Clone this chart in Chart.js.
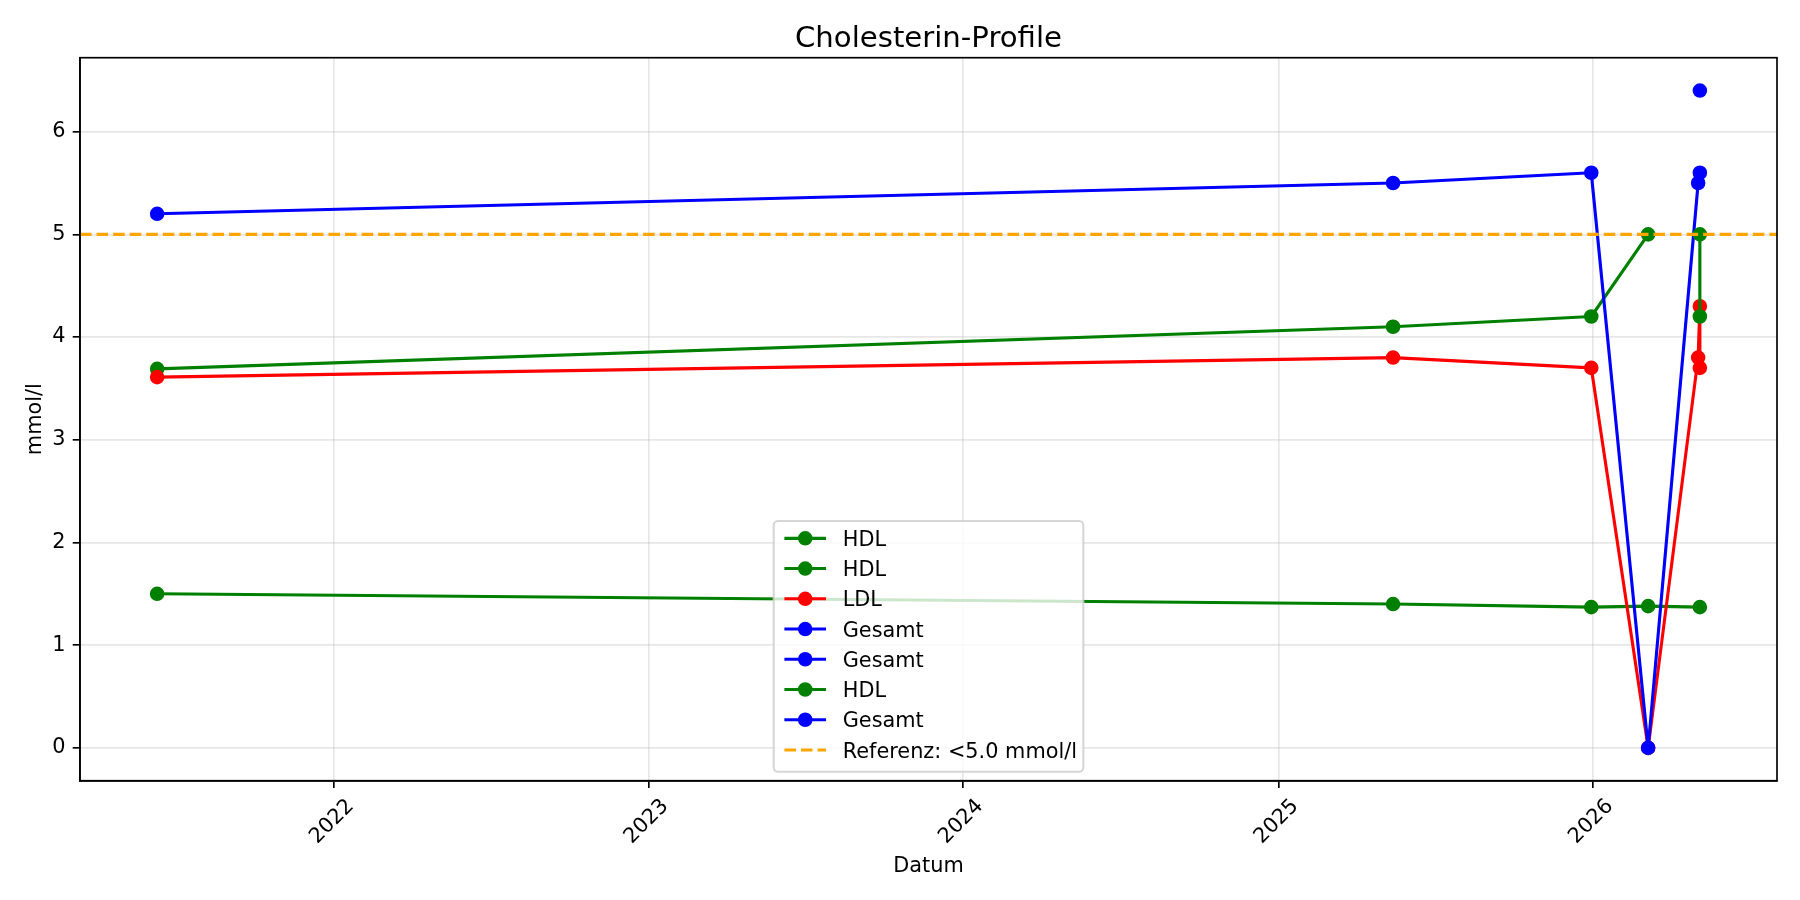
<!DOCTYPE html>
<html>
<head>
<meta charset="utf-8">
<script src="https://cdn.jsdelivr.net/npm/chart.js@4.4.1/dist/chart.umd.min.js"></script>
<style>
html,body{margin:0;padding:0;background:#ffffff;}
canvas{display:block;}
</style>
</head>
<body>
<canvas id="c" width="1800" height="900" style="width:1800px;height:900px"></canvas>
<script>
// ---------- data ----------
const hdlADates   = ['2021-06-10','2025-05-14','2025-12-30','2026-03-06','2026-05-05'];
const hdlAValues  = [1.50, 1.40, 1.37, 1.38, 1.37];
const hdlBDates   = ['2021-06-10','2025-05-14','2025-12-30','2026-03-06'];
const hdlBValues  = [3.69, 4.10, 4.20, 5.00];
const ldlDates    = ['2021-06-10','2025-05-14','2025-12-30','2026-03-06','2026-05-03','2026-05-05','2026-05-05'];
const ldlValues   = [3.61, 3.80, 3.70, 0.00, 3.80, 4.30, 3.70];
const gesamtADates  = ['2021-06-10','2025-05-14','2025-12-30','2026-03-06','2026-05-03'];
const gesamtAValues = [5.20, 5.50, 5.60, 0.00, 5.50];
const gesamtBDates  = ['2026-05-05'];
const gesamtBValues = [6.40];
const hdlCDates   = ['2026-05-05','2026-05-05'];
const hdlCValues  = [5.00, 4.20];
const gesamtCDates  = ['2026-05-05'];
const gesamtCValues = [5.60];
const referenceValue = 5.0;
const referenceLabel = 'Referenz: <5.0 mmol/l';
const xTickYears  = [2022, 2023, 2024, 2025, 2026];
const yTickValues = [0, 1, 2, 3, 4, 5, 6];

// ---------- styling ----------
const PT = 150 / 72;
const FS = 10 * PT;
const FONT = "'DejaVu Sans', sans-serif";
Chart.defaults.font.family = FONT;

const toPts = (dates, vals) => dates.map((d, i) => ({ x: Date.parse(d + 'T00:00:00Z'), y: vals[i] }));

const seriesDefs = [
  { label: 'HDL',    color: '#008000', dates: hdlADates,    vals: hdlAValues },
  { label: 'HDL',    color: '#008000', dates: hdlBDates,    vals: hdlBValues },
  { label: 'LDL',    color: '#ff0000', dates: ldlDates,     vals: ldlValues },
  { label: 'Gesamt', color: '#0000ff', dates: gesamtADates, vals: gesamtAValues },
  { label: 'Gesamt', color: '#0000ff', dates: gesamtBDates, vals: gesamtBValues },
  { label: 'HDL',    color: '#008000', dates: hdlCDates,    vals: hdlCValues },
  { label: 'Gesamt', color: '#0000ff', dates: gesamtCDates, vals: gesamtCValues }
];

const allX = [], allY = [];
seriesDefs.forEach(s => { toPts(s.dates, s.vals).forEach(p => { allX.push(p.x); allY.push(p.y); }); });
const dxr = Math.max(...allX) - Math.min(...allX);
const xMin = Math.min(...allX) - 0.05 * dxr;
const xMax = Math.max(...allX) + 0.05 * dxr;
const dyr = Math.max(...allY) - Math.min(...allY);
const yMin = Math.min(...allY) - 0.05 * dyr;
const yMax = Math.max(...allY) + 0.05 * dyr;

const N = seriesDefs.length + 1;
const datasets = seriesDefs.map((s, i) => ({
  label: s.label,
  data: toPts(s.dates, s.vals),
  borderColor: s.color,
  backgroundColor: s.color,
  pointBackgroundColor: s.color,
  pointBorderColor: s.color,
  borderWidth: 1.5 * PT,
  pointRadius: 3 * PT,
  pointHoverRadius: 3 * PT,
  pointBorderWidth: 1 * PT,
  tension: 0,
  fill: false,
  borderJoinStyle: 'round',
  order: N - i
}));
datasets.push({
  label: referenceLabel,
  data: [{ x: xMin, y: referenceValue }, { x: xMax, y: referenceValue }],
  borderColor: '#ffa500',
  backgroundColor: '#ffa500',
  borderWidth: 1.5 * PT,
  borderDash: [3.7 * 1.5 * PT, 1.6 * 1.5 * PT],
  pointRadius: 0,
  pointHoverRadius: 0,
  tension: 0,
  fill: false,
  order: 1
});

// frame (top/right spines)
const framePlugin = {
  id: 'frame',
  afterDraw(chart) {
    const { ctx, chartArea: a } = chart;
    ctx.save();
    ctx.strokeStyle = '#000';
    ctx.lineWidth = 0.8 * PT;
    ctx.strokeRect(a.left, a.top, a.right - a.left, a.bottom - a.top);
    ctx.restore();
  }
};

// matplotlib-like legend inside axes (lower center)
const legendPlugin = {
  id: 'mplLegend',
  afterDraw(chart) {
    const { ctx, chartArea: a } = chart;
    const items = chart.data.datasets;
    ctx.save();
    ctx.font = FS + 'px ' + FONT;
    const maxW = Math.max(...items.map(d => ctx.measureText(d.label).width));
    const padL = 10.7, handleLen = 2 * FS, handlePad = 0.8 * FS, padR = 6.3;
    const rowH = 30.24, padT = 17.3, padB = 21.7;
    const w = padL + handleLen + handlePad + maxW + padR;
    const h = padT + (items.length - 1) * rowH + padB;
    const x0 = (a.left + a.right) / 2 - w / 2;
    const y1 = a.bottom - 9;
    const y0 = y1 - h;
    const r = 0.2 * FS;
    ctx.beginPath();
    ctx.moveTo(x0 + r, y0);
    ctx.arcTo(x0 + w, y0, x0 + w, y0 + h, r);
    ctx.arcTo(x0 + w, y0 + h, x0, y0 + h, r);
    ctx.arcTo(x0, y0 + h, x0, y0, r);
    ctx.arcTo(x0, y0, x0 + w, y0, r);
    ctx.closePath();
    ctx.fillStyle = 'rgba(255,255,255,0.8)';
    ctx.fill();
    ctx.strokeStyle = 'rgba(204,204,204,0.8)';
    ctx.lineWidth = 1 * PT;
    ctx.stroke();
    items.forEach((d, i) => {
      const y = y0 + padT + i * rowH;
      const hx0 = x0 + padL, hx1 = hx0 + handleLen;
      ctx.save();
      ctx.strokeStyle = d.borderColor;
      ctx.lineWidth = d.borderWidth;
      ctx.setLineDash(d.borderDash || []);
      ctx.beginPath();
      ctx.moveTo(hx0, y);
      ctx.lineTo(hx1, y);
      ctx.stroke();
      ctx.setLineDash([]);
      if (d.pointRadius > 0) {
        ctx.beginPath();
        ctx.arc((hx0 + hx1) / 2, y, d.pointRadius, 0, Math.PI * 2);
        ctx.fillStyle = d.pointBackgroundColor;
        ctx.fill();
        ctx.lineWidth = d.pointBorderWidth;
        ctx.strokeStyle = d.pointBorderColor;
        ctx.stroke();
      }
      ctx.restore();
      ctx.fillStyle = '#000';
      ctx.textAlign = 'left';
      ctx.textBaseline = 'alphabetic';
      ctx.fillText(d.label, hx1 + handlePad, y + 0.3645 * FS);
    });
    ctx.restore();
  }
};

const gridColor = 'rgba(176,176,176,0.3)';

new Chart(document.getElementById('c'), {
  type: 'line',
  data: { datasets },
  options: {
    responsive: false,
    animation: false,
    devicePixelRatio: 1,
    events: [],
    layout: { padding: { left: 0, right: 23, top: 0, bottom: 0 } },
    plugins: {
      legend: { display: false },
      tooltip: { enabled: false },
      title: {
        display: true,
        fullSize: false,
        text: 'Cholesterin-Profile',
        color: '#000',
        font: { family: FONT, size: 14 * PT, weight: 'normal', lineHeight: 1.2 },
        padding: { top: 21.5, bottom: 1.2 }
      }
    },
    scales: {
      x: {
        type: 'linear',
        min: xMin,
        max: xMax,
        afterBuildTicks: s => { s.ticks = xTickYears.map(y => ({ value: Date.UTC(y, 0, 1) })); },
        afterFit: s => { s.height = 119.3; },
        ticks: {
          autoSkip: false,
          minRotation: 45,
          maxRotation: 45,
          padding: 6.1,
          labelOffset: 17,
          color: '#000',
          font: { family: FONT, size: FS },
          callback: v => String(new Date(v).getUTCFullYear())
        },
        grid: { color: gridColor, lineWidth: 0.8 * PT, tickLength: 3.5 * PT, tickColor: '#000', tickWidth: 0.8 * PT },
        border: { display: true, color: '#000', width: 0.8 * PT },
        title: { display: true, text: 'Datum', color: '#000', font: { family: FONT, size: FS }, padding: { top: 0, bottom: 20.5 } }
      },
      y: {
        type: 'linear',
        min: yMin,
        max: yMax,
        afterBuildTicks: s => { s.ticks = yTickValues.map(v => ({ value: v })); },
        afterFit: s => { s.width = 80; },
        ticks: {
          padding: 3.5 * PT,
          color: '#000',
          font: { family: FONT, size: FS },
          callback: v => String(v)
        },
        grid: { color: gridColor, lineWidth: 0.8 * PT, tickLength: 3.5 * PT, tickColor: '#000', tickWidth: 0.8 * PT },
        border: { display: true, color: '#000', width: 0.8 * PT },
        title: { display: true, text: 'mmol/l', color: '#000', font: { family: FONT, size: FS }, padding: { top: 23.5, bottom: 0 } }
      }
    }
  },
  plugins: [framePlugin, legendPlugin]
});
</script>
</body>
</html>
